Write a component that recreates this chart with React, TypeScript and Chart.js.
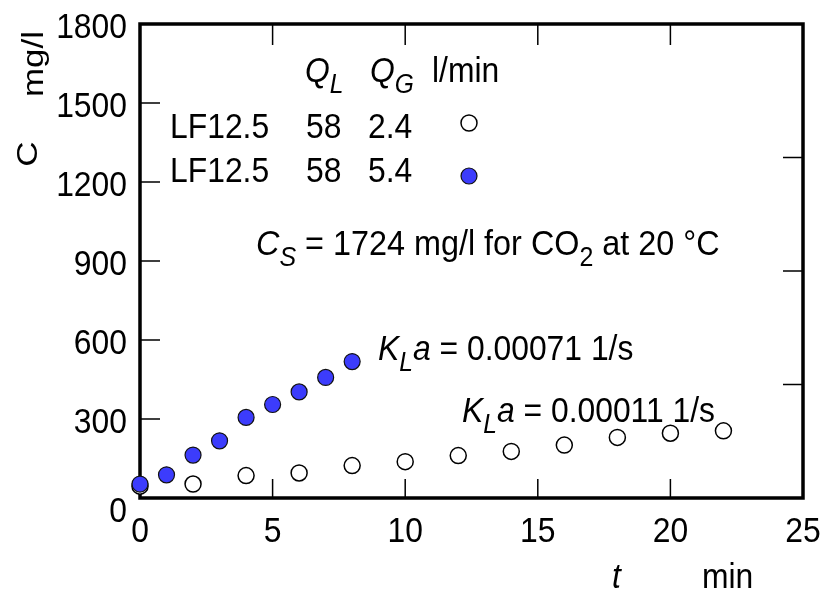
import React, { useEffect, useRef } from "react";
import { Chart, registerables } from "chart.js";

Chart.register(...registerables);

// ---- data ----
const timeFast = [0, 1, 2, 3, 4, 5, 6, 7, 8];
const concFast = [53, 88, 163, 217, 306, 355, 403, 458, 518];
const timeSlow = [0, 2, 4, 6, 8, 10, 12, 14, 16, 18, 20, 22];
const concSlow = [45, 53, 85, 95, 123, 138, 161, 177, 201, 230, 246, 255];

const xTicks = [0, 5, 10, 15, 20, 25];
const yTicks = [0, 300, 600, 900, 1200, 1500, 1800];
const xInnerTicks = [5, 10, 15, 20];
const yInnerTicks = [300, 600, 900, 1200, 1500];
const rightTicks = [0.25, 0.5, 0.75]; // C / Cs
const Cs = 1724;

const legendRows = [
  { name: "LF12.5", ql: "58", qg: "2.4" },
  { name: "LF12.5", ql: "58", qg: "5.4" },
];

const BLUE = "#3c3cfc";
const FONT = '"Liberation Sans", Arial, sans-serif';
const SIZE = 35;
const SUB = 27;
const SX = 0.91;

type Seg = { t: string; it?: boolean; sub?: boolean };

function rich(ctx: CanvasRenderingContext2D, x: number, y: number, segs: Seg[], align: "left" | "right" | "center" = "left", sx = SX) {
  ctx.save();
  ctx.translate(x, y);
  ctx.scale(sx, 1);
  ctx.textBaseline = "alphabetic";
  ctx.textAlign = "left";
  ctx.fillStyle = "#000";
  const fontOf = (s: Seg) => `${s.it ? "italic " : ""}${s.sub ? SUB : SIZE}px ${FONT}`;
  let total = 0;
  for (const s of segs) {
    ctx.font = fontOf(s);
    total += ctx.measureText(s.t).width;
  }
  let cx = align === "left" ? 0 : align === "right" ? -total : -total / 2;
  for (const s of segs) {
    ctx.font = fontOf(s);
    ctx.fillText(s.t, cx, s.sub ? 11 : 0);
    cx += ctx.measureText(s.t).width;
  }
  ctx.restore();
}

function rotated(ctx: CanvasRenderingContext2D, x: number, y: number, text: string, italic: boolean) {
  ctx.save();
  ctx.translate(x, y);
  ctx.scale(0.85, 1);
  ctx.rotate(-Math.PI / 2);
  ctx.font = `${italic ? "italic " : ""}35px ${FONT}`;
  ctx.textAlign = "center";
  ctx.textBaseline = "alphabetic";
  ctx.fillStyle = "#000";
  ctx.fillText(text, 0, 0);
  ctx.restore();
}

const framePlugin = {
  id: "frame",
  beforeDatasetsDraw(chart: any) {
    const ctx: CanvasRenderingContext2D = chart.ctx;
    const { left, right, top, bottom } = chart.chartArea;
    const xs = chart.scales.x;
    const ys = chart.scales.y;
    const yr = chart.scales.y2;
    ctx.save();
    ctx.strokeStyle = "#000";
    ctx.lineWidth = 1.5;
    ctx.beginPath();
    for (const v of xInnerTicks) {
      const px = xs.getPixelForValue(v);
      ctx.moveTo(px, bottom);
      ctx.lineTo(px, bottom - 19);
      ctx.moveTo(px, top);
      ctx.lineTo(px, top + 21);
    }
    for (const v of yInnerTicks) {
      const py = ys.getPixelForValue(v);
      ctx.moveTo(left, py);
      ctx.lineTo(left + 20, py);
    }
    for (const v of rightTicks) {
      const py = yr.getPixelForValue(v);
      ctx.moveTo(right, py);
      ctx.lineTo(right - 20, py);
    }
    ctx.stroke();
    ctx.lineWidth = 3.5;
    ctx.strokeRect(left, top, right - left, bottom - top);
    ctx.restore();
  },
  afterDraw(chart: any) {
    const ctx: CanvasRenderingContext2D = chart.ctx;
    const xs = chart.scales.x;
    const ys = chart.scales.y;
    // tick labels
    for (const v of xTicks) {
      rich(ctx, xs.getPixelForValue(v), 542, [{ t: String(v) }], "center");
    }
    for (const v of yTicks) {
      const py = ys.getPixelForValue(v);
      rich(ctx, 127, v === 0 ? py + 24 : py + 14, [{ t: String(v) }], "right");
    }
    // axis titles
    rotated(ctx, 37, 154, "C", false);
    rotated(ctx, 43, 64, "mg/l", false);
    rich(ctx, 612, 588, [{ t: "t", it: true }]);
    rich(ctx, 702, 588, [{ t: "min" }]);
    // legend table
    rich(ctx, 305, 82, [{ t: "Q", it: true }, { t: "L", it: true, sub: true }]);
    rich(ctx, 370, 82, [{ t: "Q", it: true }, { t: "G", it: true, sub: true }]);
    rich(ctx, 432, 82, [{ t: "l/min" }]);
    const baselines = [138, 182];
    const markerY = [123, 176];
    const ds = chart.data.datasets;
    const styles = [ds[1], ds[0]];
    legendRows.forEach((r, i) => {
      rich(ctx, 170, baselines[i], [{ t: r.name }]);
      rich(ctx, 306, baselines[i], [{ t: r.ql }]);
      rich(ctx, 368, baselines[i], [{ t: r.qg }]);
      ctx.save();
      ctx.beginPath();
      ctx.arc(469, markerY[i], 8, 0, Math.PI * 2);
      ctx.fillStyle = styles[i].backgroundColor;
      ctx.fill();
      ctx.lineWidth = styles[i].borderWidth;
      ctx.strokeStyle = styles[i].borderColor;
      ctx.stroke();
      ctx.restore();
    });
    // annotations
    rich(ctx, 256, 255, [
      { t: "C", it: true },
      { t: "S", it: true, sub: true },
      { t: ` = ${Cs} mg/l for CO` },
      { t: "2", sub: true },
      { t: " at 20 °C" },
    ], "left", 0.925);
    rich(ctx, 378, 360, [
      { t: "K", it: true },
      { t: "L", it: true, sub: true },
      { t: "a", it: true },
      { t: " = 0.00071 1/s" },
    ]);
    rich(ctx, 462, 422, [
      { t: "K", it: true },
      { t: "L", it: true, sub: true },
      { t: "a", it: true },
      { t: " = 0.00011 1/s" },
    ]);
  },
};

export default function App() {
  const ref = useRef<HTMLCanvasElement | null>(null);
  useEffect(() => {
    if (!ref.current) return;
    const chart = new Chart(ref.current, {
      type: "scatter",
      data: {
        datasets: [
          {
            label: "LF12.5 58 5.4",
            data: timeFast.map((t, i) => ({ x: t, y: concFast[i] })),
            backgroundColor: BLUE,
            borderColor: "#111",
            borderWidth: 1.2,
            pointRadius: 8,
            pointHoverRadius: 8,
            clip: false,
            order: 0,
          },
          {
            label: "LF12.5 58 2.4",
            data: timeSlow.map((t, i) => ({ x: t, y: concSlow[i] })),
            backgroundColor: "#fff",
            borderColor: "#000",
            borderWidth: 1.5,
            pointRadius: 8,
            pointHoverRadius: 8,
            clip: false,
            order: 1,
          },
        ],
      },
      options: {
        animation: false,
        responsive: false,
        devicePixelRatio: 1,
        layout: { padding: { left: 140, top: 24, right: 20, bottom: 100 } },
        plugins: { legend: { display: false }, tooltip: { enabled: false } },
        events: [],
        scales: {
          x: { type: "linear", min: 0, max: 25, display: false },
          y: { type: "linear", min: 0, max: 1800, display: false },
          y2: { type: "linear", min: 0, max: 1800 / Cs, display: false, position: "right" },
        },
      },
      plugins: [framePlugin],
    });
    return () => chart.destroy();
  }, []);
  return (
    <div style={{ position: "fixed", left: 0, top: 0, width: 823, height: 598, background: "#fff" }}>
      <canvas ref={ref} width={823} height={598} />
    </div>
  );
}
